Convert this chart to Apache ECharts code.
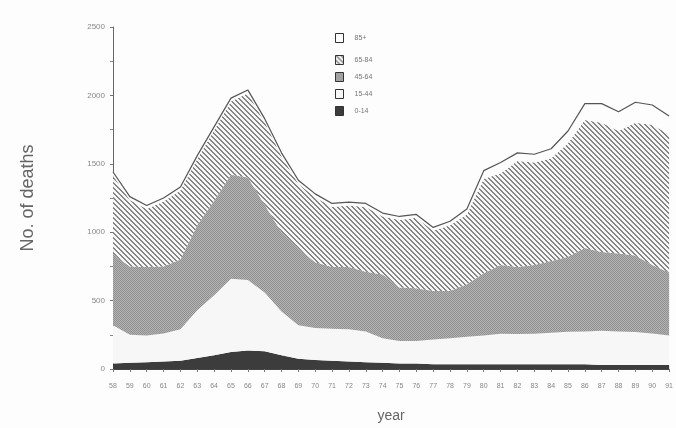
<!DOCTYPE html>
<html>
<head>
<meta charset="utf-8">
<style>
  html, body { margin: 0; padding: 0; background: #fdfdfd; }
  #chart { width: 676px; height: 428px; }
</style>
<script src="https://cdn.jsdelivr.net/npm/echarts/dist/echarts.min.js"></script>
</head>
<body>
<div id="chart"></div>
<script>
/*==================== 数据 ====================*/
var years = ['58', '59', '60', '61', '62', '63', '64', '65', '66', '67', '68', '69', '70', '71', '72', '73', '74',
    '75', '76', '77', '78', '79', '80', '81', '82', '83', '84', '85', '86', '87', '88', '89', '90', '91'];
var age0_14 = [40, 45, 50, 55, 60, 80, 100, 125, 135, 130, 100, 75, 65, 60, 55, 50, 45,
    40, 40, 35, 35, 35, 35, 35, 35, 35, 35, 35, 35, 30, 30, 30, 30, 30];
var age15_44 = [280, 205, 195, 205, 230, 350, 440, 535, 515, 430, 320, 245, 235, 235, 235, 225, 180,
    165, 165, 180, 190, 200, 210, 223, 220, 223, 230, 237, 240, 250, 245, 240, 230, 215];
var age45_64 = [520, 500, 500, 490, 510, 620, 690, 760, 750, 640, 580, 560, 480, 450, 455, 435, 465,
    390, 385, 355, 345, 385, 455, 502, 490, 502, 525, 548, 610, 575, 570, 560, 500, 460];
var age65_84 = [575, 485, 425, 475, 505, 485, 515, 535, 615, 605, 555, 475, 475, 440, 450, 475, 425,
    495, 515, 440, 480, 510, 690, 670, 775, 750, 750, 830, 935, 945, 895, 970, 1025, 1010];
var age85 = [25, 25, 25, 25, 25, 25, 25, 25, 25, 25, 25, 25, 25, 25, 25, 25, 25,
    25, 25, 25, 30, 40, 60, 80, 60, 60, 70, 90, 120, 140, 140, 150, 145, 135];
var yTicks = [0, 500, 1000, 1500, 2000, 2500];

/*==================== 填充图案 ====================*/
function makePattern(size, pick) {
    var cv = document.createElement('canvas');
    cv.width = size;
    cv.height = size;
    var ctx = cv.getContext('2d');
    for (var x = 0; x < size; x++) {
        for (var y = 0; y < size; y++) {
            ctx.fillStyle = pick(x, y);
            ctx.fillRect(x, y, 1, 1);
        }
    }
    return { image: cv, repeat: 'repeat' };
}
// 斜线 65-84
var hatchFill = makePattern(5, function (x, y) {
    return ((x - y) % 5 + 5) % 5 < 2 ? '#858585' : '#f6f6f6';
});
// 网点 45-64
var dotFill = makePattern(2, function (x, y) {
    return (x + y) % 2 === 0 ? '#8f8f8f' : '#b4b4b4';
});

function band(name, data, fill, line) {
    return {
        name: name,
        type: 'line',
        stack: 'total',
        data: data,
        symbol: 'none',
        smooth: false,
        itemStyle: { color: fill },
        lineStyle: line ? { color: '#555', width: 1.2 } : { width: 0, opacity: 0 },
        areaStyle: { color: fill, opacity: 1 }
    };
}

/*==================== echart ====================*/
var myChart = echarts.init(document.getElementById('chart'));
var legendText = { fontFamily: 'Liberation Sans', fontSize: 7, color: '#777', padding: [0, 0, 0, 6] };
var option = {
    backgroundColor: '#fdfdfd',
    animation: false,
    grid: { left: 113, right: 5, top: 27, bottom: 52 },
    legend: [{
        orient: 'vertical',
        left: 335,
        top: 33,
        padding: 0,
        icon: 'rect',
        itemWidth: 8,
        itemHeight: 9,
        textStyle: legendText,
        data: [{ name: '85+', itemStyle: { color: '#fdfdfd', borderColor: '#333', borderWidth: 1 } }]
    }, {
        orient: 'vertical',
        left: 335,
        top: 55,
        padding: 0,
        icon: 'rect',
        itemWidth: 8,
        itemHeight: 9,
        itemGap: 7,
        textStyle: legendText,
        data: [
            { name: '65-84', itemStyle: { color: hatchFill, borderColor: '#333', borderWidth: 1 } },
            { name: '45-64', itemStyle: { color: dotFill, borderColor: '#333', borderWidth: 1 } },
            { name: '15-44', itemStyle: { color: '#f7f7f7', borderColor: '#333', borderWidth: 1 } },
            { name: '0-14', itemStyle: { color: '#3c3c3c', borderColor: '#333', borderWidth: 1 } }
        ]
    }],
    xAxis: {
        type: 'category',
        data: years,
        boundaryGap: false,
        name: 'year',
        nameLocation: 'middle',
        nameGap: 40,
        nameTextStyle: { fontFamily: 'Liberation Sans', fontSize: 14, color: '#666' },
        axisLine: { lineStyle: { color: '#444', width: 1 } },
        axisTick: { length: 3, lineStyle: { color: '#777' } },
        axisLabel: { interval: 0, margin: 14, fontFamily: 'Liberation Sans', fontSize: 7, color: '#888' },
        splitLine: { show: false }
    },
    yAxis: {
        type: 'value',
        min: yTicks[0],
        max: yTicks[yTicks.length - 1],
        interval: 500,
        name: 'No. of deaths',
        nameLocation: 'middle',
        nameGap: 76,
        nameTextStyle: { fontFamily: 'Liberation Sans', fontSize: 18, color: '#666' },
        axisLine: { show: true, lineStyle: { color: '#666', width: 1 } },
        axisTick: { show: true, length: 3, lineStyle: { color: '#777' } },
        minorTick: { show: true, splitNumber: 2, length: 3, lineStyle: { color: '#888' } },
        axisLabel: {
            margin: 8, fontFamily: 'Liberation Sans', fontSize: 8, color: '#888',
            formatter: function (v) { return String(v); }
        },
        splitLine: { show: false }
    },
    series: [
        band('0-14', age0_14, '#3c3c3c'),
        band('15-44', age15_44, '#f7f7f7'),
        band('45-64', age45_64, dotFill),
        band('65-84', age65_84, hatchFill),
        band('85+', age85, '#fdfdfd', true)
    ]
};
myChart.setOption(option);
</script>
</body>
</html>
